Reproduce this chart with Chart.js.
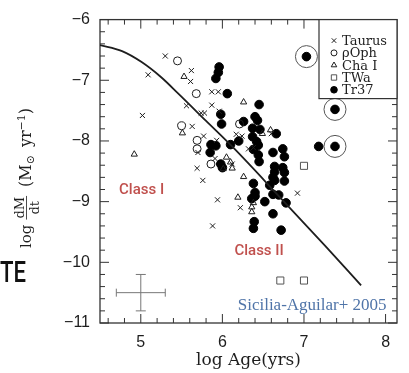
<!DOCTYPE html>
<html>
<head>
<meta charset="utf-8">
<script src="https://cdn.jsdelivr.net/npm/chart.js@4.4.0/dist/chart.umd.min.js"></script>
<style>
  body { margin: 0; background: #fff; }
  #wrap { width: 409px; height: 373px; }
</style>
</head>
<body>
<div id="wrap"><canvas id="chart" width="409" height="373"></canvas></div>
<script>
// log age (yr) vs log accretion rate (Msun/yr)
const taurusAge  = [5.30, 5.09, 5.62, 5.61, 5.02, 5.56, 5.87, 5.95, 5.87, 5.74, 5.78, 5.96, 5.63, 5.77, 5.70,
                    5.69, 5.76, 5.93, 6.17, 6.24, 6.32, 6.38, 6.60, 5.94, 5.88, 6.22, 6.12, 6.92, 5.91];
const taurusRate = [-6.60, -6.91, -6.84, -7.02, -7.58, -7.42, -7.19, -7.19, -7.41, -7.54, -7.54, -7.51, -7.76, -7.92, -8.19,
                    -8.45, -8.65, -7.99, -7.89, -7.92, -8.13, -8.11, -7.88, -8.97, -9.40, -9.10, -8.38, -8.86, -8.29];

const ophAge  = [5.45, 5.68, 5.50, 5.69, 5.69, 5.86, 6.21];
const ophRate = [-6.68, -7.22, -7.75, -7.99, -8.13, -8.38, -7.72];

const chaAge  = [5.53, 6.26, 5.51, 4.92, 6.49, 6.59, 6.05, 6.10, 6.12, 6.01, 6.26, 6.19, 6.38, 6.36, 6.36];
const chaRate = [-6.94, -7.36, -7.87, -8.22, -7.88, -7.82, -8.27, -8.35, -8.45, -8.46, -8.59, -8.93, -9.02, -9.09, -9.17];

const twaAge  = [7.00, 6.71, 7.00];
const twaRate = [-8.41, -10.30, -10.30];

const tr37Age  = [5.96, 5.95, 5.92, 6.06, 6.45, 5.98, 5.99, 6.40, 6.43, 6.26, 6.37, 6.46, 6.66, 6.37, 6.42,
                  6.20, 6.10, 6.44, 6.74, 5.86, 5.92, 5.85, 7.18, 6.62, 6.38, 6.44, 6.45, 6.76, 5.98, 6.00,
                  6.64, 6.74, 6.64, 6.76, 6.62, 6.64, 6.76, 6.38, 6.58, 6.40, 6.40, 6.36, 6.62, 6.69, 6.52,
                  6.78, 6.62, 6.39, 6.38, 6.72, 7.03, 7.38, 7.38];
const tr37Rate = [-6.78, -6.87, -6.97, -7.22, -7.40, -7.56, -7.72, -7.60, -7.66, -7.68, -7.79, -7.81, -7.88, -7.93, -8.01,
                  -8.00, -8.06, -8.07, -8.13, -8.06, -8.08, -8.19, -8.09, -8.19, -8.14, -8.23, -8.34, -8.26, -8.38, -8.44,
                  -8.42, -8.44, -8.51, -8.52, -8.60, -8.65, -8.66, -8.70, -8.73, -8.85, -8.91, -8.95, -8.88, -8.89, -9.00,
                  -9.02, -9.20, -9.33, -9.44, -9.47, -6.61, -7.48, -8.09];

// circled Tr37 stars
const ringAge  = [7.03, 7.38, 7.38];
const ringRate = [-6.61, -7.48, -8.09];

// model curve
const curveAge  = [4.50, 4.77, 5.01, 5.25, 5.46, 5.80, 6.14, 6.70, 7.26, 7.70];
const curveRate = [-6.42, -6.52, -6.70, -6.95, -7.22, -7.67, -8.12, -8.92, -9.73, -10.38];

// typical error bar
const errAge = 5.0, errRate = -10.5, errDAge = 0.3, errDRate = 0.3;

const xTicks = [5, 6, 7, 8];
const yTicks = [-11, -10, -9, -8, -7, -6];
const legendLabels = ['Taurus', '\u03c1Oph', 'Cha I', 'TWa', 'Tr37'];

function pts(xs, ys) {
  return xs.map((x, i) => ({ x: x, y: ys[i] }));
}

const ink = '#1e1e1e';
const serif = 'DejaVu Serif';

// legend entries -> dataset index + small symbol size
const legendMap = [
  { ds: 3, r: 3.2 },
  { ds: 4, r: 3 },
  { ds: 5, r: 3.2 },
  { ds: 6, r: 3.8 },
  { ds: 7, r: 3.3 }
];

const decor = {
  id: 'decor',
  beforeDatasetsDraw(chart) {
    const ctx = chart.ctx, a = chart.chartArea;
    const xs = chart.scales.x, ys = chart.scales.y;
    ctx.save();
    ctx.strokeStyle = '#333';
    ctx.lineWidth = 1.3;
    ctx.strokeRect(a.left, a.top, a.right - a.left, a.bottom - a.top);
    ctx.lineWidth = 1;
    ctx.beginPath();
    // inward ticks, minor every 0.2
    for (let k = Math.ceil(xs.min * 5); k <= Math.floor(xs.max * 5); k++) {
      const v = k / 5, px = xs.getPixelForValue(v);
      const len = (k % 5 === 0) ? 9 : 5;
      ctx.moveTo(px, a.bottom); ctx.lineTo(px, a.bottom - len);
      ctx.moveTo(px, a.top); ctx.lineTo(px, a.top + len);
    }
    for (let k = Math.ceil(ys.min * 5); k <= Math.floor(ys.max * 5); k++) {
      const v = k / 5, py = ys.getPixelForValue(v);
      const len = (k % 5 === 0) ? 9 : 5;
      ctx.moveTo(a.left, py); ctx.lineTo(a.left + len, py);
      ctx.moveTo(a.right, py); ctx.lineTo(a.right - len, py);
    }
    ctx.stroke();
    ctx.restore();
  },
  afterDatasetsDraw(chart) {
    const ctx = chart.ctx, a = chart.chartArea;
    const xs = chart.scales.x, ys = chart.scales.y;
    ctx.save();

    // legend box in the upper right corner
    const bx = a.right - 78, by = a.top, bh = 79;
    ctx.fillStyle = '#fff';
    ctx.fillRect(bx, by, a.right - bx, bh);
    ctx.strokeStyle = '#333';
    ctx.lineWidth = 1.2;
    ctx.strokeRect(bx, by, a.right - bx, bh);
    ctx.font = '13px ' + serif;
    ctx.textBaseline = 'middle';
    legendLabels.forEach((lab, i) => {
      const d = chart.data.datasets[legendMap[i].ds];
      const y = by + 21 + i * 12.3;
      ctx.strokeStyle = d.borderColor;
      ctx.fillStyle = d.backgroundColor;
      ctx.lineWidth = 1;
      Chart.helpers.drawPoint(ctx, { pointStyle: d.pointStyle, radius: legendMap[i].r, rotation: 0, borderWidth: 1 }, bx + 15, y);
      ctx.fillStyle = ink;
      ctx.fillText(lab, bx + 23, y + 1);
    });

    // region labels
    ctx.textAlign = 'center';
    ctx.fillStyle = '#c0504d';
    ctx.font = '500 15px Roboto';
    ctx.fillText('Class I', xs.getPixelForValue(5.01), ys.getPixelForValue(-8.82));
    ctx.fillText('Class II', xs.getPixelForValue(6.45), ys.getPixelForValue(-9.81));
    ctx.fillStyle = '#4f74a8';
    ctx.font = '17px Liberation Serif';
    ctx.fillText('Sicilia-Aguilar+ 2005', xs.getPixelForValue(7.10), ys.getPixelForValue(-10.72));
    ctx.restore();
  },
  afterDraw(chart) {
    const ctx = chart.ctx;
    ctx.save();
    // y axis title: log dM/dt (M_sun yr^-1), rotated
    ctx.translate(31, 248);
    ctx.rotate(-Math.PI / 2);
    ctx.fillStyle = ink;
    ctx.strokeStyle = ink;
    ctx.textBaseline = 'alphabetic';
    ctx.font = '15px ' + serif;
    ctx.fillText('log', 0, 0);
    let p = ctx.measureText('log').width + 5;
    ctx.font = '13px ' + serif;
    const wn = ctx.measureText('dM').width, wd = ctx.measureText('dt').width;
    const w = Math.max(wn, wd) + 2;
    ctx.fillText('dM', p + (w - wn) / 2, -7.5);
    ctx.fillText('dt', p + (w - wd) / 2, 8);
    ctx.lineWidth = 0.8;
    ctx.beginPath();
    ctx.moveTo(p, -4.5); ctx.lineTo(p + w, -4.5);
    ctx.stroke();
    p += w + 9;
    ctx.font = '16px ' + serif;
    ctx.fillText('(M', p, 0);
    p += ctx.measureText('(M').width;
    ctx.font = '11px ' + serif;
    ctx.fillText('\u2299', p, 3);
    p += ctx.measureText('\u2299').width + 8;
    ctx.font = '16px ' + serif;
    ctx.fillText('yr', p, 0);
    p += ctx.measureText('yr').width;
    ctx.font = '11px ' + serif;
    ctx.fillText('\u22121', p, -6);
    p += ctx.measureText('\u22121').width;
    ctx.font = '16px ' + serif;
    ctx.fillText(')', p, 0);
    ctx.restore();

    // cropped slide text on the left edge
    ctx.save();
    ctx.fillStyle = '#111';
    ctx.font = '500 30px Roboto';
    ctx.textBaseline = 'alphabetic';
    ctx.fillText('TE', 0, 282, 26);
    ctx.restore();
  }
};

new Chart(document.getElementById('chart'), {
  type: 'scatter',
  data: {
    datasets: [
      {
        label: 'model',
        data: pts(curveAge, curveRate),
        showLine: true,
        borderColor: ink,
        borderWidth: 1.8,
        pointRadius: 0,
        cubicInterpolationMode: 'monotone',
        fill: false
      },
      {
        label: 'err x',
        data: [{ x: errAge - errDAge, y: errRate }, { x: errAge + errDAge, y: errRate }],
        showLine: true,
        borderColor: '#777',
        borderWidth: 1,
        pointStyle: 'line',
        rotation: 90,
        pointRadius: 4,
        pointBorderColor: '#777',
        pointBorderWidth: 1
      },
      {
        label: 'err y',
        data: [{ x: errAge, y: errRate - errDRate }, { x: errAge, y: errRate + errDRate }],
        showLine: true,
        borderColor: '#777',
        borderWidth: 1,
        pointStyle: 'line',
        rotation: 0,
        pointRadius: 5,
        pointBorderColor: '#777',
        pointBorderWidth: 1
      },
      {
        label: 'Taurus',
        data: pts(taurusAge, taurusRate),
        pointStyle: 'crossRot',
        pointRadius: 3.6,
        borderColor: ink,
        backgroundColor: 'rgba(0,0,0,0)',
        borderWidth: 1
      },
      {
        label: 'rho Oph',
        data: pts(ophAge, ophRate),
        pointStyle: 'circle',
        pointRadius: 4,
        borderColor: ink,
        backgroundColor: 'rgba(0,0,0,0)',
        borderWidth: 1
      },
      {
        label: 'Cha I',
        data: pts(chaAge, chaRate),
        pointStyle: 'triangle',
        pointRadius: 3.6,
        borderColor: ink,
        backgroundColor: 'rgba(0,0,0,0)',
        borderWidth: 1
      },
      {
        label: 'TWa',
        data: pts(twaAge, twaRate),
        pointStyle: 'rect',
        pointRadius: 5,
        borderColor: '#555',
        backgroundColor: 'rgba(0,0,0,0)',
        borderWidth: 1
      },
      {
        label: 'Tr37',
        data: pts(tr37Age, tr37Rate),
        pointStyle: 'circle',
        pointRadius: 4.3,
        borderColor: '#000',
        backgroundColor: '#000',
        borderWidth: 1
      },
      {
        label: 'ring',
        data: pts(ringAge, ringRate),
        pointStyle: 'circle',
        pointRadius: 11,
        borderColor: '#555',
        backgroundColor: 'rgba(0,0,0,0)',
        borderWidth: 1
      }
    ]
  },
  options: {
    responsive: false,
    animation: false,
    events: [],
    layout: { padding: { top: 15, right: 5, left: 0, bottom: 0 } },
    plugins: {
      legend: { display: false },
      tooltip: { enabled: false }
    },
    scales: {
      x: {
        type: 'linear',
        min: 4.5,
        max: 8.14,
        grid: { display: false, drawTicks: false },
        border: { display: false },
        afterBuildTicks: s => { s.ticks = xTicks.map(v => ({ value: v })); },
        afterFit: s => { s.height = 50; },
        ticks: {
          padding: 10,
          color: ink,
          font: { family: 'Liberation Sans', size: 16 },
          callback: v => String(v)
        },
        title: {
          display: true,
          text: 'log Age(yrs)',
          color: ink,
          font: { family: serif, size: 17 },
          padding: { top: 0, bottom: 2 }
        }
      },
      y: {
        type: 'linear',
        min: -11,
        max: -6,
        grid: { display: false, drawTicks: false },
        border: { display: false },
        afterBuildTicks: s => { s.ticks = yTicks.map(v => ({ value: v })); },
        afterFit: s => { s.width = 100; },
        ticks: {
          padding: 10,
          color: ink,
          font: { family: 'Liberation Sans', size: 16 },
          callback: v => String(v).replace('-', '\u2212')
        }
      }
    }
  },
  plugins: [decor]
});
</script>
</body>
</html>
